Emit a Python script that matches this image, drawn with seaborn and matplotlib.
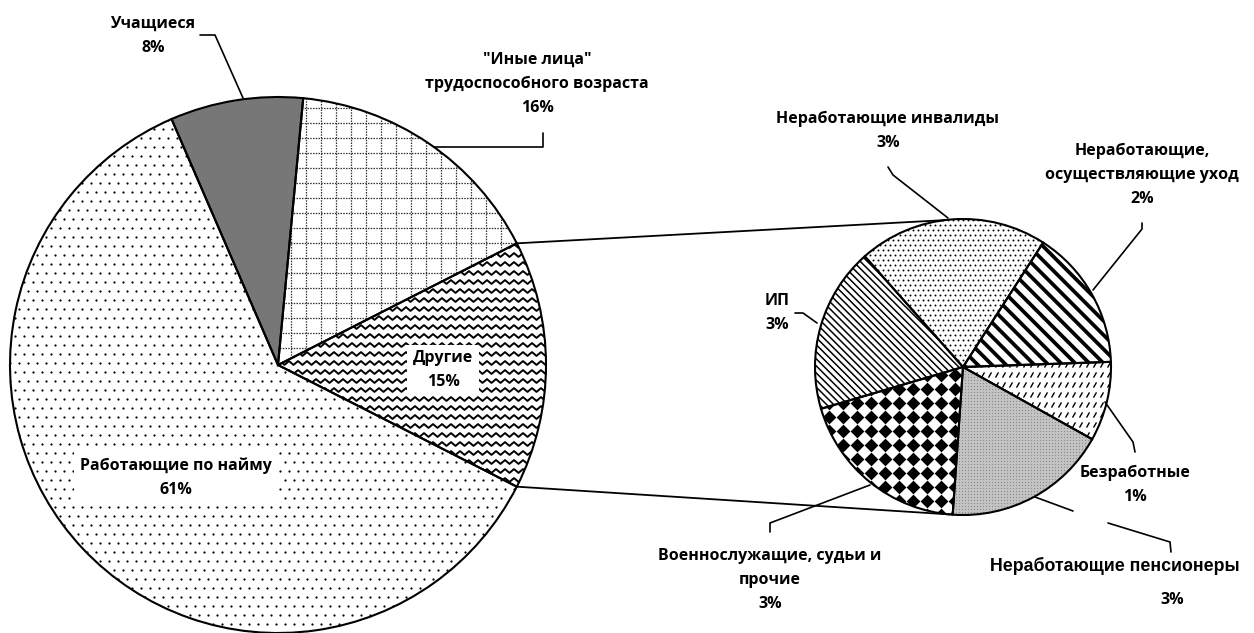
import numpy as np
import matplotlib
matplotlib.use("Agg")
import matplotlib.pyplot as plt
import matplotlib.patches as mpatches
from matplotlib.collections import LineCollection
import seaborn as sns

# main pie: structure of insured persons, %
main_labels = ["Другие", "\"Иные лица\"\nтрудоспособного возраста", "Учащиеся", "Работающие по найму"]
main_values = [15, 16, 8, 61]

# breakdown of "Другие", % of the total
sub_labels = ["Неработающие,\nосуществляющие уход", "Неработающие инвалиды", "ИП",
              "Военнослужащие, судьи и\nпрочие", "Неработающие пенсионеры", "Безработные"]
sub_values = [2.3, 3.1, 2.7, 2.9, 2.7, 1.3]

W, H = 1254, 633


def px(x, y):
    # picture pixel (y down) -> data coords (y up)
    return x, H - y


def add_clipped(ax, artist, wedge):
    ax.add_collection(artist)
    artist.set_clip_path(wedge)


def stripes(ax, w, angle, step, lw, ls="solid", color="black"):
    cx, cy = w.center
    r = w.r
    a = np.radians(angle)
    d = np.array([np.cos(a), np.sin(a)])
    n = np.array([-np.sin(a), np.cos(a)])
    segs = []
    for o in np.arange(-r, r + step, step):
        p = np.array([cx, cy]) + o * n
        segs.append([p - r * d, p + r * d])
    add_clipped(ax, LineCollection(segs, colors=color, linewidths=lw, linestyles=ls, zorder=2), w)


def zigzag(ax, w, step, amp, lw):
    cx, cy = w.center
    r = w.r
    xs = np.arange(cx - r - step, cx + r + step, step / 2)
    sign = np.where(np.arange(len(xs)) % 2 == 0, 0.5, -0.5)
    segs = [np.column_stack([xs, y0 + amp * sign]) for y0 in np.arange(cy - r, cy + r + step, step)]
    add_clipped(ax, LineCollection(segs, colors="black", linewidths=lw, zorder=2), w)


def dashes(ax, w, dx, dy, length, angle, lw):
    cx, cy = w.center
    r = w.r
    a = np.radians(angle)
    d = 0.5 * length * np.array([np.cos(a), np.sin(a)])
    segs = []
    for y in np.arange(cy - r, cy + r + dy, dy):
        for x in np.arange(cx - r, cx + r + dx, dx):
            p = np.array([x, y])
            segs.append([p - d, p + d])
    add_clipped(ax, LineCollection(segs, colors="black", linewidths=lw, zorder=2), w)


def marks(ax, w, step, size, marker="o", stagger=True, color="black"):
    cx, cy = w.center
    r = w.r
    pts = []
    for i, y in enumerate(np.arange(cy - r, cy + r + step, step)):
        off = step / 2 if (stagger and i % 2) else 0
        for x in np.arange(cx - r - off, cx + r + step, step):
            pts.append((x, y))
    pts = np.array(pts)
    sc = ax.scatter(pts[:, 0], pts[:, 1], s=size ** 2, c=color, marker=marker, linewidths=0, zorder=2)
    sc.set_clip_path(w)


sns.set_theme(style="white")
plt.rcParams["font.family"] = ["Open Sans", "DejaVu Sans"]

fig = plt.figure(figsize=(W / 100, H / 100), dpi=100)
ax = fig.add_axes([0, 0, 1, 1])

main_colors = ["white", "white", "#777777", "white"]
sub_colors = ["white", "white", "white", "white", "#c4c4c4", "white"]

wm, _ = ax.pie(main_values, startangle=-27, counterclock=True, center=px(278, 365),
               radius=268, colors=main_colors, wedgeprops=dict(linewidth=0))
ws, _ = ax.pie(sub_values, startangle=2, counterclock=True, center=px(963, 367),
               radius=148, colors=sub_colors, wedgeprops=dict(linewidth=0))

# fill patterns
zigzag(ax, wm[0], 9, 3.8, 1.4)
stripes(ax, wm[1], 0, 15, 0.9, ls=(0, (1.2, 1.0)), color="#333333")
stripes(ax, wm[1], 90, 15, 0.9, ls=(0, (1.2, 1.0)), color="#333333")
marks(ax, wm[3], 9, 1.6)

stripes(ax, ws[0], -45, 10, 2.7)
marks(ax, ws[1], 5, 1.4)
stripes(ax, ws[2], -45, 5, 1.1)
marks(ax, ws[3], 14, 7.0, marker="D", stagger=False)
marks(ax, ws[4], 3, 0.9, stagger=False, color="#8a8a8a")
dashes(ax, ws[5], 7, 10, 6, 60, 1.0)

for w in list(wm) + list(ws):
    ax.add_patch(mpatches.Wedge(w.center, w.r, w.theta1, w.theta2, fill=False,
                                ec="black", lw=1.5, zorder=3))

# connector lines between the "Другие" slice and the second pie
agg = wm[0]
for th_main, th_sub in [(agg.theta2, 97), (agg.theta1, 265)]:
    p0 = (agg.center[0] + agg.r * np.cos(np.radians(th_main)),
          agg.center[1] + agg.r * np.sin(np.radians(th_main)))
    c2 = ws[0].center
    p1 = (c2[0] + ws[0].r * np.cos(np.radians(th_sub)), c2[1] + ws[0].r * np.sin(np.radians(th_sub)))
    ax.plot([p0[0], p1[0]], [p0[1], p1[1]], color="black", lw=1.3, zorder=3)

# labels
lab_font = dict(fontsize=11.5, fontweight="bold", ha="center", va="center",
                linespacing=1.65, color="black", zorder=5)
box = dict(boxstyle="square,pad=0.35", fc="white", ec="none")

main_pos = [(443, 370), (537, 84), (153, 36), (176, 478)]
for lab, val, pos, i in zip(main_labels, main_values, main_pos, range(4)):
    ax.text(*px(*pos), f"{lab}\n{val:.0f}%", bbox=box if i in (0, 3) else None, **lab_font)

sub_pos = [(1142, 175), (888, 131), (777, 313), (770, 580), None, (1135, 485)]
for lab, val, pos in zip(sub_labels, sub_values, sub_pos):
    if pos is None:
        ax.text(*px(1115, 566), lab, fontsize=12.8, fontweight="bold", color="black",
                family=["Liberation Sans", "DejaVu Sans"], ha="center", va="center", zorder=5)
        ax.text(*px(1172, 600), f"{val:.0f}%", **lab_font)
    else:
        ax.text(*px(*pos), f"{lab}\n{val:.0f}%", **lab_font)

# leader lines
leaders = [
    [(200, 35), (215, 35), (243, 98)],
    [(434, 147), (543, 147), (543, 133)],
    [(888, 167), (893, 175), (948, 218)],
    [(1142, 223), (1142, 229), (1093, 290)],
    [(795, 313), (803, 313), (817, 323)],
    [(1105, 402), (1133, 442), (1135, 452)],
    [(770, 532), (770, 523), (870, 485)],
    [(1035, 497), (1073, 511)],
    [(1108, 523), (1170, 542), (1171, 552)],
]
for pts in leaders:
    xy = np.array([px(*p) for p in pts])
    ax.plot(xy[:, 0], xy[:, 1], color="black", lw=1.2, zorder=4)

ax.set_xlim(0, W)
ax.set_ylim(0, H)
ax.set_aspect("equal")
ax.axis("off")
fig.savefig("out.png", dpi=100, facecolor="white")
